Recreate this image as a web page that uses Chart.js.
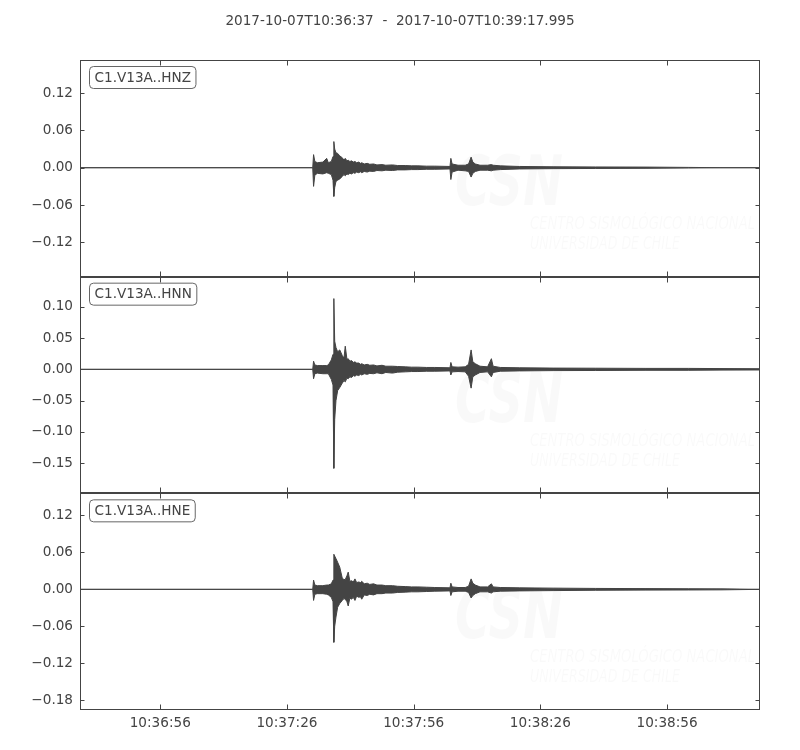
<!DOCTYPE html>
<html>

<head>
    <script src="https://cdn.jsdelivr.net/npm/chart.js@4/dist/chart.umd.min.js"></script>
    <style>
        body { margin: 0; background: #fff; }
    </style>
</head>

<body>
    <canvas id="seis" width="800" height="750"></canvas>
    <script>
        // seconds after 2017-10-07T10:36:37
        const t = [0, 55.1, 55.3, 55.6, 56.2, 57.5, 58.4, 58.8, 59.5, 59.9, 60.1, 60.3,
            60.6, 61.0, 61.5, 62.1, 62.5, 62.8, 63.2, 63.5, 63.9, 64.3,
            64.7, 65.1, 65.5, 66.0, 66.4, 66.7, 67.3, 68.0, 68.6, 69.5,
            70.3, 71.5, 72.4, 74, 75.2, 77, 78.5, 80, 82, 84, 87.6,
            87.8, 88.1, 89.5, 91.2, 92.0, 92.6, 93.0, 93.6, 94.7, 96.5,
            97.4, 97.8, 99.5, 104, 112, 122, 134, 144, 152, 160.995];

        // min / max envelope of each trace (m/s^2)
        const zUp = [0, 0, 0.021, 0.010, 0.008, 0.009, 0.015, 0.008, 0.010, 0.018, 0.042, 0.030,
            0.024, 0.023, 0.019, 0.016, 0.012, 0.015, 0.011, 0.012, 0.010, 0.011,
            0.009, 0.010, 0.008, 0.009, 0.007, 0.008, 0.006, 0.007, 0.0055, 0.006,
            0.0045, 0.005, 0.004, 0.0045, 0.0035, 0.0035, 0.003, 0.003, 0.0025, 0.0025, 0.002,
            0.015, 0.006, 0.004, 0.004, 0.006, 0.017, 0.009, 0.006, 0.004, 0.004,
            0.005, 0.004, 0.003, 0.002, 0.0015, 0.0012, 0.001, 0.0005, 0, 0];
        const zLo = [0, 0, -0.030, -0.012, -0.009, -0.010, -0.008, -0.009, -0.011, -0.020, -0.046, -0.032,
            -0.022, -0.020, -0.018, -0.014, -0.011, -0.013, -0.010, -0.011, -0.009, -0.010,
            -0.008, -0.009, -0.007, -0.008, -0.0065, -0.008, -0.006, -0.007, -0.0055, -0.006,
            -0.0045, -0.005, -0.004, -0.0045, -0.0035, -0.0035, -0.003, -0.003, -0.0025, -0.0025, -0.002,
            -0.019, -0.007, -0.004, -0.005, -0.006, -0.015, -0.009, -0.006, -0.004, -0.004,
            -0.005, -0.004, -0.003, -0.002, -0.0015, -0.0012, -0.001, -0.0005, 0, 0];
        const nUp = [0, 0, 0.013, 0.007, 0.006, 0.006, 0.006, 0.007, 0.015, 0.024, 0.113, 0.045,
            0.035, 0.028, 0.031, 0.022, 0.018, 0.037, 0.016, 0.017, 0.013, 0.014,
            0.011, 0.012, 0.010, 0.010, 0.008, 0.009, 0.007, 0.008, 0.0065, 0.007,
            0.0055, 0.0065, 0.005, 0.005, 0.0045, 0.004, 0.0035, 0.0035, 0.003, 0.003, 0.0025,
            0.011, 0.004, 0.0035, 0.004, 0.008, 0.031, 0.012, 0.009, 0.005, 0.004,
            0.017, 0.005, 0.003, 0.0025, 0.002, 0.0018, 0.0015, 0.0015, 0.0012, 0.001];
        const nLo = [0, 0, -0.015, -0.007, -0.006, -0.007, -0.007, -0.007, -0.016, -0.025, -0.158, -0.080,
            -0.050, -0.034, -0.029, -0.022, -0.018, -0.020, -0.014, -0.015, -0.012, -0.013,
            -0.010, -0.011, -0.009, -0.010, -0.008, -0.009, -0.007, -0.008, -0.0065, -0.007,
            -0.0055, -0.007, -0.005, -0.006, -0.0045, -0.004, -0.0035, -0.0035, -0.003, -0.003, -0.0025,
            -0.009, -0.004, -0.0035, -0.004, -0.011, -0.030, -0.012, -0.009, -0.005, -0.004,
            -0.012, -0.005, -0.003, -0.0025, -0.002, -0.0018, -0.0015, -0.0015, -0.0012, -0.001];
        const eUp = [0, 0, 0.015, 0.007, 0.006, 0.006, 0.007, 0.007, 0.009, 0.015, 0.057, 0.054,
            0.050, 0.044, 0.036, 0.018, 0.016, 0.016, 0.022, 0.028, 0.013, 0.014,
            0.012, 0.017, 0.011, 0.012, 0.011, 0.013, 0.009, 0.010, 0.008, 0.009,
            0.007, 0.007, 0.006, 0.006, 0.005, 0.0045, 0.004, 0.004, 0.0035, 0.003, 0.0025,
            0.010, 0.004, 0.003, 0.003, 0.005, 0.017, 0.010, 0.007, 0.004, 0.004,
            0.009, 0.004, 0.003, 0.0025, 0.002, 0.0015, 0.0012, 0.001, 0.0008, 0];
        const eLo = [0, 0, -0.018, -0.008, -0.007, -0.007, -0.008, -0.009, -0.013, -0.020, -0.086, -0.060,
            -0.045, -0.029, -0.023, -0.018, -0.015, -0.016, -0.020, -0.027, -0.014, -0.016,
            -0.013, -0.018, -0.011, -0.013, -0.012, -0.016, -0.009, -0.010, -0.008, -0.009,
            -0.007, -0.007, -0.006, -0.006, -0.005, -0.0045, -0.004, -0.004, -0.0035, -0.003, -0.0025,
            -0.010, -0.004, -0.003, -0.003, -0.005, -0.014, -0.010, -0.007, -0.004, -0.004,
            -0.006, -0.004, -0.003, -0.0025, -0.002, -0.0015, -0.0012, -0.001, -0.0008, 0];

        const channels = ['C1.V13A..HNZ', 'C1.V13A..HNN', 'C1.V13A..HNE'];
        const zTicks = [-0.12, -0.06, 0, 0.06, 0.12];
        const nTicks = [-0.15, -0.10, -0.05, 0, 0.05, 0.10];
        const eTicks = [-0.18, -0.12, -0.06, 0, 0.06, 0.12];
        const timeTicks = [19, 49, 79, 109, 139];
        const startSec = 10 * 3600 + 36 * 60 + 37;
        const title = '2017-10-07T10:36:37  -  2017-10-07T10:39:17.995';

        const ink = '#444444';
        const font = { family: 'DejaVu Sans', size: 13.6 };
        // top to bottom
        const axisIds = ['yZ', 'yN', 'yE'];

        function pts(arr) {
            return arr.map((v, i) => ({ x: t[i], y: v }));
        }

        function trace(arr, axis, fill) {
            return {
                data: pts(arr), yAxisID: axis, fill: fill,
                borderColor: ink, backgroundColor: ink, borderWidth: 1,
                pointRadius: 0, tension: 0
            };
        }

        function fmtY(v) {
            return (v < 0 ? '\u2212' : '') + Math.abs(v).toFixed(2);
        }

        function fmtTime(v) {
            const s = Math.round(startSec + v);
            const p = n => String(n).padStart(2, '0');
            return p(Math.floor(s / 3600)) + ':' + p(Math.floor(s / 60) % 60) + ':' + p(s % 60);
        }

        function yAxis(min, max, ticks) {
            return {
                type: 'linear', position: 'left', stack: 'traces', stackWeight: 1,
                min: min, max: max,
                grid: { display: false, drawTicks: false },
                border: { display: false },
                ticks: { color: ink, font: font, padding: 7, callback: fmtY },
                afterBuildTicks: s => { s.ticks = ticks.map(v => ({ value: v })); },
                afterFit: s => { s.width = 80; }
            };
        }

        // title, frame, inward ticks, station labels and faint watermark
        const panels = {
            id: 'panels',
            beforeDatasetsDraw(chart) {
                const ctx = chart.ctx;
                const a = chart.chartArea;
                ctx.save();
                ctx.beginPath();
                ctx.rect(a.left, a.top, a.right - a.left, a.bottom - a.top);
                ctx.clip();
                ctx.fillStyle = 'rgba(0,0,0,0.022)';
                axisIds.forEach(id => {
                    const s = chart.scales[id];
                    ctx.font = 'italic bold 70px "DejaVu Sans"';
                    ctx.fillText('CSN', a.left + 375, s.top + 145, 108);
                    ctx.font = 'italic 17px "DejaVu Sans"';
                    ctx.fillText('CENTRO SISMOLÓGICO NACIONAL', a.left + 450, s.top + 169, 225);
                    ctx.fillText('UNIVERSIDAD DE CHILE', a.left + 450, s.top + 189, 150);
                });
                ctx.restore();
            },
            afterDraw(chart) {
                const ctx = chart.ctx;
                const a = chart.chartArea;
                const xs = chart.scales.x;
                ctx.save();
                ctx.fillStyle = ink;
                ctx.font = font.size + 'px "DejaVu Sans"';
                ctx.textAlign = 'center';
                ctx.textBaseline = 'middle';
                ctx.fillText(title, chart.width / 2, 21);
                ctx.textAlign = 'left';

                ctx.lineWidth = 1;
                axisIds.forEach((id, k) => {
                    const s = chart.scales[id];
                    const top = Math.round(s.top) + 0.5, bot = Math.round(s.bottom) - 0.5;
                    const L = Math.round(a.left) + 0.5, R = Math.round(a.right) - 0.5;
                    ctx.strokeStyle = ink;
                    ctx.strokeRect(L, top, R - L, bot - top);
                    ctx.beginPath();
                    s.ticks.forEach(tk => {
                        const y = Math.round(s.getPixelForValue(tk.value)) + 0.5;
                        ctx.moveTo(L, y); ctx.lineTo(L + 4, y);
                        ctx.moveTo(R, y); ctx.lineTo(R - 4, y);
                    });
                    xs.ticks.forEach(tk => {
                        const x = Math.round(xs.getPixelForValue(tk.value)) + 0.5;
                        ctx.moveTo(x, top); ctx.lineTo(x, top + 5);
                        ctx.moveTo(x, bot); ctx.lineTo(x, bot - 5);
                    });
                    ctx.stroke();

                    // station label in a rounded box
                    const w = ctx.measureText(channels[k]).width + 10;
                    const bx = a.left + 9.5, by = s.top + 6.5, bh = 22;
                    ctx.fillStyle = '#fff';
                    ctx.strokeStyle = '#666';
                    ctx.beginPath();
                    ctx.roundRect(bx, by, w, bh, 4);
                    ctx.fill();
                    ctx.stroke();
                    ctx.fillStyle = ink;
                    ctx.fillText(channels[k], bx + 5, by + bh / 2 + 0.5);
                });
                ctx.restore();
            }
        };

        new Chart(document.getElementById('seis'), {
            type: 'line',
            data: {
                datasets: [
                    trace(zUp, 'yZ', '+1'), trace(zLo, 'yZ', false),
                    trace(nUp, 'yN', '+1'), trace(nLo, 'yN', false),
                    trace(eUp, 'yE', '+1'), trace(eLo, 'yE', false)
                ]
            },
            options: {
                responsive: false,
                animation: false,
                layout: { padding: { left: 0, right: 40, top: 60, bottom: 0 } },
                plugins: {
                    legend: { display: false },
                    tooltip: { enabled: false },
                    title: { display: false }
                },
                scales: {
                    x: {
                        type: 'linear', min: 0, max: 160.995,
                        grid: { display: false, drawTicks: false },
                        border: { display: false },
                        ticks: { color: ink, font: font, padding: 5, callback: fmtTime, maxRotation: 0 },
                        afterBuildTicks: s => { s.ticks = timeTicks.map(v => ({ value: v })); },
                        afterFit: s => { s.height = 40; }
                    },
                    // stacked axes are laid out bottom-up, so the lowest panel comes first
                    yE: yAxis(-0.196, 0.156, eTicks),
                    yN: yAxis(-0.198, 0.148, nTicks),
                    yZ: yAxis(-0.175, 0.173, zTicks)
                }
            },
            plugins: [panels]
        });
    </script>
</body>

</html>
